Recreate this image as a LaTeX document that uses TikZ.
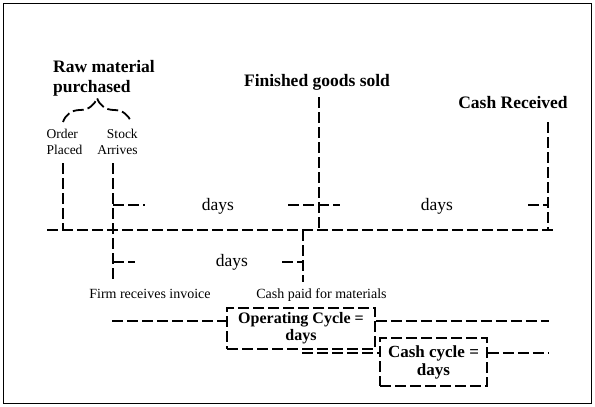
\documentclass[tikz,border=0pt]{standalone}
\usepackage{fontspec}
\setmainfont{Liberation Serif}
\usetikzlibrary{decorations.pathreplacing}
\begin{document}
\begin{tikzpicture}[x=1pt,y=-1pt,
  dl/.style={line width=1.8pt, dash pattern=on 11pt off 4pt},
  bigb/.style={font=\fontsize{17.5}{20}\selectfont\bfseries, inner sep=0pt},
  daysf/.style={font=\fontsize{17.5}{20}\selectfont, inner sep=0pt},
  small/.style={font=\fontsize{13.5}{16}\selectfont, inner sep=0pt},
  smallb/.style={font=\fontsize{14}{16}\selectfont, inner sep=0pt},
  boxb/.style={dl, draw, inner sep=0pt, align=center}]
\useasboundingbox (0,0) rectangle (595,407);
\draw[line width=1.5pt] (3.5,3.5) rectangle (591.5,403.5);

% headings
\node[bigb, align=left] (raw) at (104,78) {Raw material\\purchased};
\node[bigb, anchor=base] (fgs) at (317,86) {Finished goods sold};
\node[bigb, anchor=base] (cashr) at (513,108) {Cash Received};
\node[small, align=left] (ord) at (64.5,141.5) {Order\\Placed};
\node[small, align=right] (stk) at (117.5,141.5) {Stock\\Arrives};

% brace
\coordinate (bl) at (63,122);
\coordinate (br) at (131,122);
\draw[dl, decorate, decoration={brace, amplitude=24pt}] (bl) -- (br);

% timeline
\coordinate (ml) at (47,230);
\coordinate (mr) at (555,230);
\draw[dl] (ml) -- (mr);

% verticals
\coordinate (opT) at (63,163);  \coordinate (opB) at (63,230);
\coordinate (saT) at (113,163); \coordinate (saB) at (113,282);
\coordinate (fgT) at (319,97);  \coordinate (fgB) at (319,230);
\coordinate (crT) at (548,122); \coordinate (crB) at (548,230);
\coordinate (cpT) at (303,230); \coordinate (cpB) at (303,282);
\draw[dl] (opT) -- (opB);
\draw[dl] (saT) -- (saB);
\draw[dl] (fgT) -- (fgB);
\draw[dl] (crT) -- (crB);
\draw[dl] (cpT) -- (cpB);

% upper brackets
\node[daysf, anchor=base] (d1) at (218,210) {days};
\node[daysf, anchor=base] (d2) at (437,210) {days};
\coordinate (u1) at (113,205); \coordinate (u2) at (145,205);
\coordinate (u3) at (288,205); \coordinate (u4) at (319,205);
\coordinate (u5) at (340,205);
\coordinate (u6) at (528,205); \coordinate (u7) at (548,205);
\draw[dl] (u1) -- (u2);
\draw[dl] (u3) -- (u4) -- (u5);
\draw[dl] (u6) -- (u7);

% lower bracket
\node[daysf, anchor=base] (d3) at (232,266) {days};
\coordinate (l1) at (113,262); \coordinate (l2) at (135,262);
\coordinate (l3) at (282,262); \coordinate (l4) at (303,262);
\draw[dl] (l1) -- (l2);
\draw[dl] (l3) -- (l4);

\node[smallb, anchor=base] (inv) at (150,298) {Firm receives invoice};
\node[smallb, anchor=base] (paid) at (321.5,298) {Cash paid for materials};

% cycle boxes
\node[boxb, minimum width=148pt, minimum height=41pt,
      font=\fontsize{16}{17}\selectfont\bfseries] (opc) at (301,328.5) {Operating Cycle =\\days};
\node[boxb, minimum width=107pt, minimum height=48pt,
      font=\fontsize{17}{18}\selectfont\bfseries] (csc) at (433.5,362) {Cash cycle =\\days};

\coordinate (oL) at (112,321); \coordinate (oR) at (549,321);
\coordinate (cL) at (302,353); \coordinate (cR) at (549,353);
\draw[dl] (oL) -- (oL -| opc.west);
\draw[dl] (opc.east |- oR) -- (oR);
\draw[dl] (cL) -- (cL -| csc.west);
\draw[dl] (csc.east |- cR) -- (cR);
\end{tikzpicture}
\end{document}
